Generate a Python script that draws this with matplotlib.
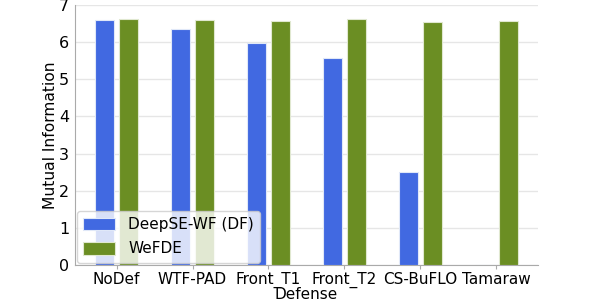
import numpy as np
import matplotlib
matplotlib.use("Agg")
import matplotlib.pyplot as plt

# data
defenses = ["NoDef", "WTF-PAD", "Front_T1", "Front_T2", "CS-BuFLO", "Tamaraw"]
deepse_mi = [6.59, 6.35, 5.97, 5.58, 2.50, 0.0]
wefde_mi = [6.62, 6.60, 6.58, 6.63, 6.55, 6.57]

fig, ax = plt.subplots(figsize=(5.98, 3.02), dpi=100)
fig.subplots_adjust(left=0.125, right=0.9, top=0.983, bottom=0.123)

x = np.arange(len(defenses))
w = 0.25
ax.bar(x - 0.155, deepse_mi, w, color="royalblue", edgecolor="#e0e8f8",
       linewidth=0.8, label="DeepSE-WF (DF)", zorder=3)
ax.bar(x + 0.155, wefde_mi, w, color="olivedrab", edgecolor="#e0e8d0",
       linewidth=0.8, label="WeFDE", zorder=3)

ax.set_xticks(x)
ax.set_xticklabels(defenses, fontsize=11)
ax.set_xlim(-0.55, 5.55)
ax.set_ylim(0, 7)
ax.set_yticks(range(0, 8))
ax.tick_params(axis="y", labelsize=11.5, length=0, pad=4)
ax.tick_params(axis="x", length=3, color="#aaaaaa", pad=2)
ax.set_ylabel("Mutual Information", fontsize=11.2, labelpad=1)
ax.set_xlabel("Defense", fontsize=11, labelpad=-1)

ax.grid(axis="y", color="#e6e6e6", linewidth=1, zorder=0)
for s in ["top", "right"]:
    ax.spines[s].set_visible(False)
for s in ["left", "bottom"]:
    ax.spines[s].set_color("#aaaaaa")

leg = ax.legend(loc="lower left", fontsize=11, framealpha=0.8,
                borderaxespad=0.15, handlelength=2.1, handleheight=0.9,
                handletextpad=0.85, labelspacing=0.6)

fig.savefig("out.png", dpi=100)
